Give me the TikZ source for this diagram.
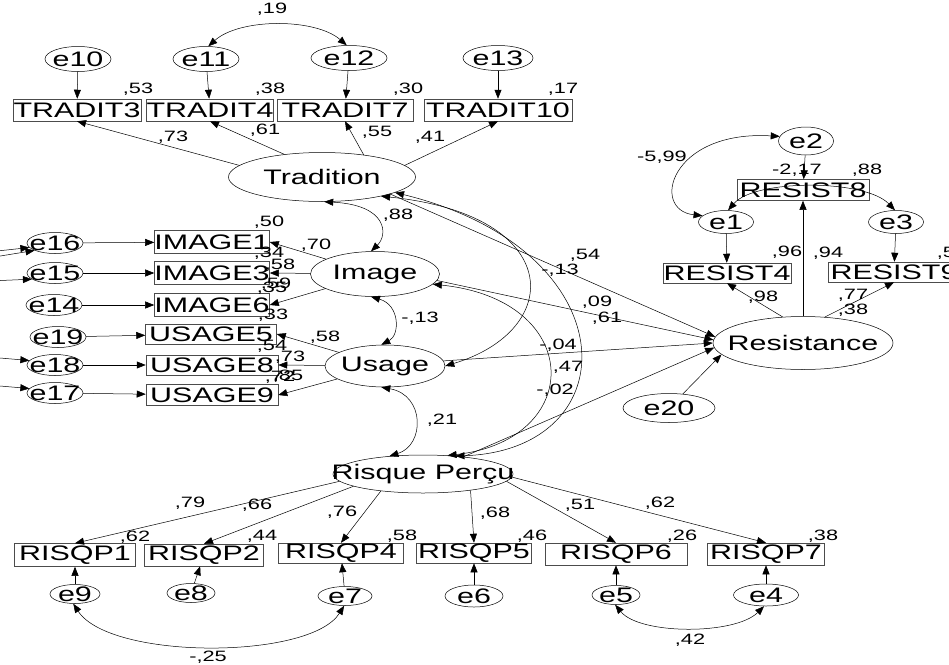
\documentclass[tikz,border=0pt]{standalone}
\usepackage{fontspec}
\newfontfamily\amosfont{Liberation Sans}[FakeStretch=1.45]
\usetikzlibrary{shapes.geometric, arrows.meta, positioning, calc}
\newcommand{\amosvar}{\amosfont\fontsize{21}{23}\selectfont}
\newcommand{\amoscoef}{\amosfont\fontsize{15}{17}\selectfont}
\tikzset{
  latent/.style={ellipse, draw=black, line width=0.5pt, inner sep=0pt, label={[font=\amosvar]center:#1}},
  errvar/.style={ellipse, draw=black, line width=0.5pt, inner sep=0pt, minimum width=56pt, minimum height=21pt, label={[font=\amosvar]center:#1}},
  observed/.style={rectangle, draw=black!70, line width=0.5pt, inner sep=0pt, minimum height=22pt, font=\amosvar},
  coef/.style={inner sep=0pt, font=\amoscoef},
  arrow/.style={line width=0.5pt, -{Triangle[length=9pt, width=7pt]}},
  covar/.style={line width=0.5pt, {Triangle[length=9pt, width=7pt]}-{Triangle[length=9pt, width=7pt]}}
}
\begin{document}
\begin{tikzpicture}[x=1pt, y=-1pt]
        \useasboundingbox (0,0) rectangle (949,664);
        % Nodes: Tradition
        \node (tradition) [latent=Tradition, minimum width=187pt, minimum height=49pt] at (322,177) {};
        \node (tradit3) [observed, minimum width=128pt] at (77,110) {TRADIT3};
        \node (tradit4) [observed, minimum width=124pt] at (210,110) {TRADIT4};
        \node (tradit7) [observed, minimum width=136pt] at (345,110) {TRADIT7};
        \node (tradit10) [observed, minimum width=148pt] at (498,110) {TRADIT10};
        \node (e10) [errvar=e10, minimum width=66pt, minimum height=25pt] at (78,59) {};
        \node (e11) [errvar=e11, minimum width=66pt, minimum height=25pt] at (206,59) {};
        \node (e12) [errvar=e12, minimum width=76pt, minimum height=25pt] at (349,58) {};
        \node (e13) [errvar=e13, minimum width=70pt, minimum height=25pt] at (498,58) {};

        % Nodes: Image and Usage
        \node (image) [latent=Image, minimum width=129pt, minimum height=45pt] at (375,274) {};
        \node (usage) [latent=Usage, minimum width=120pt, minimum height=42pt] at (385,366) {};
        \node (image1) [observed, minimum width=115pt, minimum height=23pt] at (212,242) {IMAGE1};
        \node (image3) [observed, minimum width=115pt, minimum height=23pt] at (212,273) {IMAGE3};
        \node (image6) [observed, minimum width=115pt, minimum height=23pt] at (212,305) {IMAGE6};
        \node (usage5) [observed, minimum width=131pt, minimum height=20pt] at (211,334) {USAGE5};
        \node (usage8) [observed, minimum width=132pt, minimum height=20pt] at (212,365) {USAGE8};
        \node (usage9) [observed, minimum width=132pt, minimum height=21pt] at (212,395) {USAGE9};
        \node (e16) [errvar=e16] at (55,243) {};
        \node (e15) [errvar=e15] at (55,273) {};
        \node (e14) [errvar=e14] at (54,305) {};
        \node (e19) [errvar=e19] at (58,337) {};
        \node (e18) [errvar=e18] at (55,365) {};
        \node (e17) [errvar=e17] at (55,393) {};

        % Nodes: Resistance
        \node (resistance) [latent=Resistance, minimum width=180pt, minimum height=53pt] at (803,343) {};
        \node (e20) [errvar=e20, minimum width=92pt, minimum height=29pt] at (669,408) {};
        \node (resist8) [observed, minimum width=132pt, minimum height=21pt] at (803,190) {RESIST8};
        \node (resist4) [observed, minimum width=128pt, minimum height=20pt] at (727,273) {RESIST4};
        \node (resist9) [observed, minimum width=131pt, minimum height=20pt] at (894,272) {RESIST9};
        \node (e1) [errvar=e1, minimum width=55pt, minimum height=23pt] at (726,222) {};
        \node (e2) [errvar=e2, minimum width=55pt, minimum height=28pt] at (806,141) {};
        \node (e3) [errvar=e3, minimum width=55pt, minimum height=23pt] at (896,222) {};

        % Nodes: Risque Percu
        \node (risque) [latent=Risque Perçu, minimum width=180pt, minimum height=38pt] at (423,474) {};
        \node (risqp1) [observed, minimum width=121pt, minimum height=23pt] at (75,555) {RISQP1};
        \node (risqp2) [observed, minimum width=119pt] at (204,555) {RISQP2};
        \node (risqp4) [observed, minimum width=125pt, minimum height=20pt] at (341,553) {RISQP4};
        \node (risqp5) [observed, minimum width=115pt, minimum height=20pt] at (474,553) {RISQP5};
        \node (risqp6) [observed, minimum width=142pt] at (616,554) {RISQP6};
        \node (risqp7) [observed, minimum width=117pt] at (766,554) {RISQP7};
        \node (e9) [errvar=e9, minimum width=50pt, minimum height=19pt] at (75,594) {};
        \node (e8) [errvar=e8, minimum width=48pt, minimum height=19pt] at (191,593) {};
        \node (e7) [errvar=e7, minimum width=54pt, minimum height=19pt] at (345,596) {};
        \node (e6) [errvar=e6, minimum width=58pt, minimum height=22pt] at (474,596) {};
        \node (e5) [errvar=e5, minimum width=48pt, minimum height=19pt] at (616,595) {};
        \node (e4) [errvar=e4, minimum width=65pt, minimum height=22pt] at (766,595) {};

        % Free ends of cut-off covariances
        \coordinate (off16a) at (-12,252);
        \coordinate (off16b) at (-12,258);
        \coordinate (off15) at (-12,281);
        \coordinate (off18) at (-12,357);
        \coordinate (off17) at (-12,385);

        % Paths: Tradition
        \draw [arrow] (e10) -- (tradit3);
        \draw [arrow] (e11) -- (tradit4);
        \draw [arrow] (e12) -- (tradit7);
        \draw [arrow] (e13) -- (tradit10);
        \draw [arrow] (tradition.172) -- (tradit3.south);
        \draw [arrow] (tradition.149) -- (tradit4.south);
        \draw [arrow] (tradition.28) -- (tradit7.south);
        \draw [arrow] (tradition.8) -- (tradit10.south);
        \draw [covar] (e11.80) .. controls (240,18) and (315,18) .. (e12.100);

        % Paths: Image and Usage
        \draw [arrow] (e16) -- (image1);
        \draw [arrow] (e15) -- (image3);
        \draw [arrow] (e14) -- (image6);
        \draw [arrow] (e19) -- (usage5);
        \draw [arrow] (e18) -- (usage8);
        \draw [arrow] (e17) -- (usage9);
        \draw [arrow] (image) -- (image1.east);
        \draw [arrow] (image) -- (image3.east);
        \draw [arrow] (image) -- (image6.east);
        \draw [arrow] (usage) -- (usage5.east);
        \draw [arrow] (usage) -- (usage8.east);
        \draw [arrow] (usage) -- (usage9.east);
        \draw [arrow] (off16a) -- (e16.190);
        \draw [arrow] (off16b) -- (e16.200);
        \draw [arrow] (off15) -- (e15.195);
        \draw [arrow] (off18) -- (e18.170);
        \draw [arrow] (off17) -- (e17.170);

        % Covariances between latent variables
        \draw [covar] (tradition.-85) .. controls (388,205) and (388,235) .. (image.100);
        \draw [covar] (image.-100) .. controls (400,305) and (400,335) .. (usage.100);
        \draw [covar] (usage.-100) .. controls (425,395) and (425,445) .. (risque.152);
        \draw [covar] (tradition.-18) .. controls (565,215) and (565,330) .. (usage.east);
        \draw [covar] (tradition.-12) .. controls (630,250) and (630,450) .. (risque.29);
        \draw [covar] (image.-10) .. controls (585,300) and (585,440) .. (risque.37);

        % Paths into Resistance
        \draw [arrow] (tradition.-14) -- (resistance.176);
        \draw [arrow] (image.-6) -- (resistance.178);
        \draw [arrow] (usage.5) -- (resistance.west);
        \draw [arrow] (risque.23) -- (resistance.183);
        \draw [arrow] (e20) -- (resistance.188);
        \draw [arrow] (resistance.128) -- (resist4.south);
        \draw [arrow] (resistance.north) -- (resist8.south);
        \draw [arrow] (resistance.50) -- (resist9.south);
        \draw [arrow] (e1) -- (resist4);
        \draw [arrow] (e2) -- (resist8);
        \draw [arrow] (e3) -- (resist9);
        \draw [covar] (e2.170) .. controls (670,130) and (650,210) .. (e1.165);
        \draw [covar] (e1.80) .. controls (755,179) and (865,179) .. (e3.95);

        % Paths: Risque Percu
        \draw [arrow] (risque.185) -- (risqp1.north);
        \draw [arrow] (risque.190) -- (risqp2.north);
        \draw [arrow] (risque.202) -- (risqp4.north);
        \draw [arrow] (risque.-19) -- (risqp5.north);
        \draw [arrow] (risque.-5) -- (risqp6.north);
        \draw [arrow] (risque.-2) -- (risqp7.north);
        \draw [arrow] (e9) -- (risqp1);
        \draw [arrow] (e8) -- (risqp2);
        \draw [arrow] (e7) -- (risqp4);
        \draw [arrow] (e6) -- (risqp5);
        \draw [arrow] (e5) -- (risqp6);
        \draw [arrow] (e4) -- (risqp7);
        \draw [covar] (e9.-100) .. controls (110,660) and (310,660) .. (e7.-95);
        \draw [covar] (e5.-95) .. controls (640,635) and (735,635) .. (e4.-100);

        % Estimates
        \node (v_e11e12) [coef] at (272,9) {,19};
        \node (r_tradit3) [coef] at (138,89) {,53};
        \node (r_tradit4) [coef] at (270,89) {,38};
        \node (r_tradit7) [coef] at (408,89) {,30};
        \node (r_tradit10) [coef] at (563,89) {,17};
        \node (l_tradit3) [coef] at (173,137) {,73};
        \node (l_tradit4) [coef] at (265,130) {,61};
        \node (l_tradit7) [coef] at (377,132) {,55};
        \node (l_tradit10) [coef] at (430,137) {,41};

        \node (r_image1) [coef] at (269,222) {,50};
        \node (l_image1) [coef] at (316,245) {,70};
        \node (r_image3) [coef] at (269,253) {,34};
        \node (l_image3) [coef] at (280,265) {,58};
        \node (l_image6) [coef] at (276,284) {,59};
        \node (r_image6) [coef] at (272,288) {,35};
        \node (r_usage5) [coef] at (273,315) {,33};
        \node (l_usage5) [coef] at (325,337) {,58};
        \node (r_usage8) [coef] at (272,346) {,54};
        \node (l_usage8) [coef] at (290,357) {,73};
        \node (r_usage9) [coef] at (280,377) {,72};
        \node (l_usage9) [coef] at (288,376) {,85};
        \node (v_trad_img) [coef] at (398,215) {,88};
        \node (v_img_use) [coef] at (420,318) {-,13};
        \node (v_use_rsq) [coef] at (442,420) {,21};

        \node (b_trad) [coef] at (585,255) {,54};
        \node (v_trad_use) [coef] at (560,270) {-,13};
        \node (v_trad_rsq) [coef] at (597,302) {,09};
        \node (b_img) [coef] at (607,318) {,61};
        \node (b_use) [coef] at (558,345) {-,04};
        \node (b_rsq) [coef] at (568,367) {,47};
        \node (v_img_rsq) [coef] at (555,390) {-,02};

        \node (v_e1e2) [coef] at (662,157) {-5,99};
        \node (v_e1e3) [coef] at (797,170) {-2,17};
        \node (r_resist8) [coef] at (867,170) {,88};
        \node (r_resist4) [coef] at (787,252) {,96};
        \node (l_resist8) [coef] at (828,253) {,94};
        \node (r_resist9) [coef] at (952,253) {,59};
        \node (l_resist4) [coef] at (763,297) {,98};
        \node (l_resist9) [coef] at (853,295) {,77};
        \node (r_resistance) [coef] at (853,310) {,38};

        \node (l_risqp1) [coef] at (190,503) {,79};
        \node (l_risqp2) [coef] at (257,505) {,66};
        \node (l_risqp4) [coef] at (342,512) {,76};
        \node (l_risqp5) [coef] at (495,513) {,68};
        \node (l_risqp6) [coef] at (580,505) {,51};
        \node (l_risqp7) [coef] at (660,503) {,62};
        \node (r_risqp1) [coef] at (135,537) {,62};
        \node (r_risqp2) [coef] at (262,536) {,44};
        \node (r_risqp4) [coef] at (402,536) {,58};
        \node (r_risqp5) [coef] at (532,536) {,46};
        \node (r_risqp6) [coef] at (682,536) {,26};
        \node (r_risqp7) [coef] at (823,536) {,38};
        \node (v_e9e7) [coef] at (208,657) {-,25};
        \node (v_e5e4) [coef] at (690,640) {,42};
        \end{tikzpicture}
\end{document}
